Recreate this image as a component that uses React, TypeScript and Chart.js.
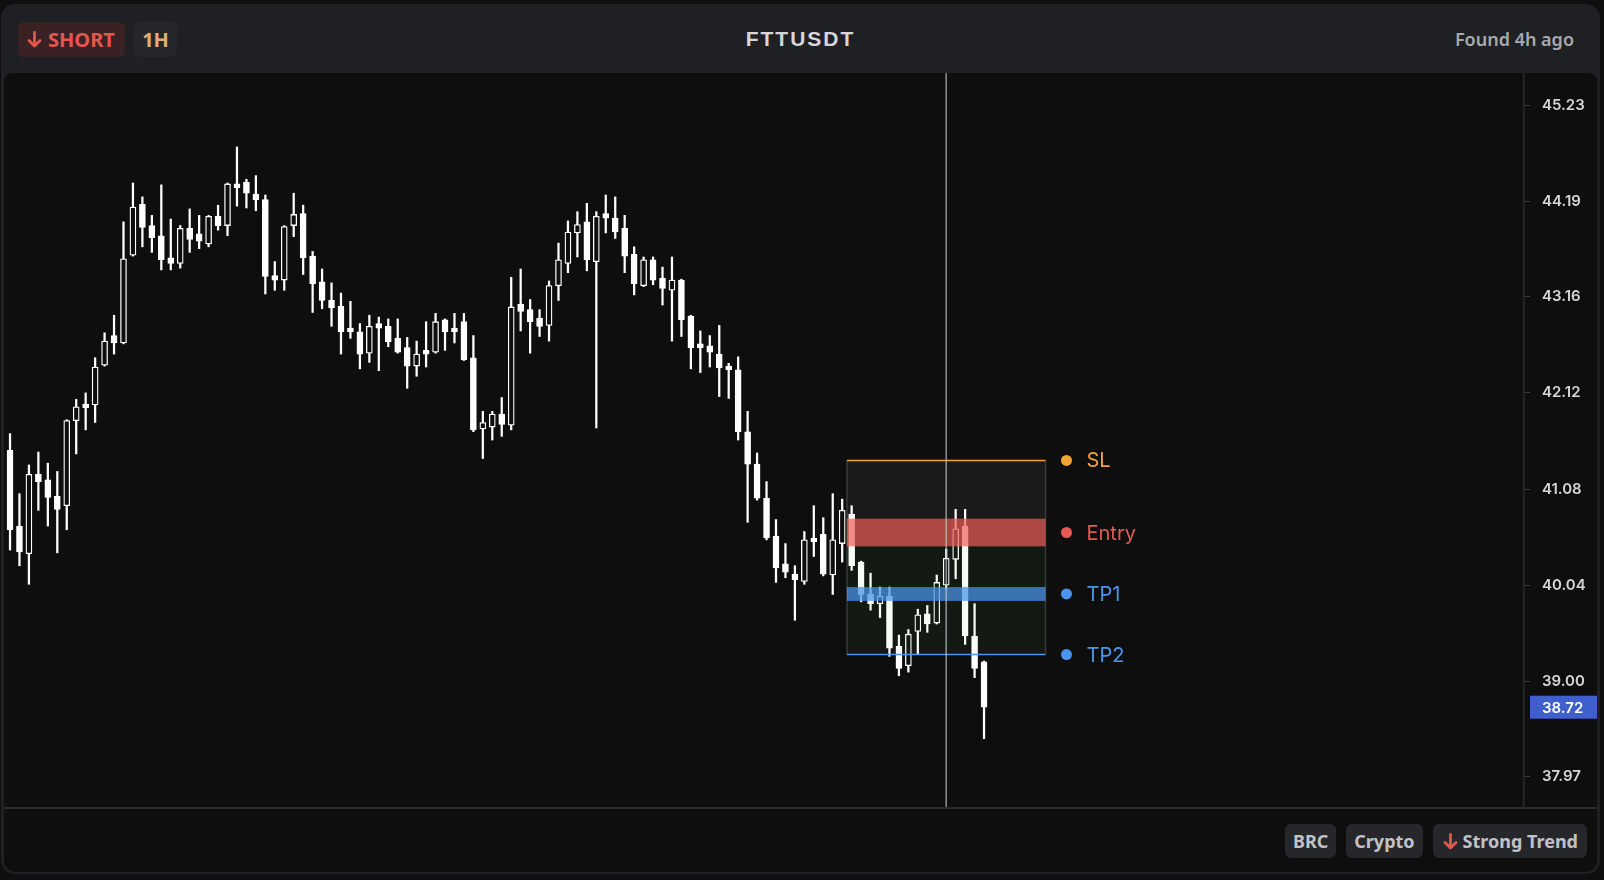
import React, { useEffect, useRef } from "react";
import { Chart, registerables } from "chart.js";

Chart.register(...registerables);

const symbol = "FTTUSDT";
const direction = "SHORT";
const timeframe = "1H";
const foundText = "Found 4h ago";
const tags = ["BRC", "Crypto"];
const trendTag = "Strong Trend";

const opens = [
  41.5, 40.68, 40.38, 41.24, 41.18, 41.0, 40.9, 41.82, 42.0, 41.99,
  42.42, 42.74, 42.66, 43.61, 44.16, 43.93, 43.82, 43.58, 43.52, 43.9,
  43.84, 43.73, 44.03, 43.93, 44.38, 44.4, 44.27, 44.21, 43.39, 43.34,
  43.93, 44.06, 43.6, 43.32, 43.12, 43.06, 42.82, 42.78, 42.55, 42.87,
  42.84, 42.71, 42.61, 42.41, 42.58, 42.56, 42.91, 42.82, 42.89, 42.5,
  41.73, 41.75, 41.89, 41.77, 43.08, 43.02, 42.93, 42.85, 43.28, 43.52,
  43.85, 43.97, 43.54, 44.06, 44.01, 43.9, 43.62, 43.28, 43.56, 43.36,
  43.23, 43.34, 42.95, 42.65, 42.63, 42.54, 42.41, 42.37, 41.7, 41.35,
  40.98, 40.57, 40.27, 40.16, 40.08, 40.55, 40.59, 40.15, 40.49, 40.81,
  40.29, 39.94, 39.84, 39.92, 39.38, 39.17, 39.54, 39.73, 39.63, 40.04,
  40.32, 40.68, 39.49, 39.21,
];
const highs = [
  41.68, 41.03, 41.34, 41.48, 41.36, 41.27, 41.83, 42.05, 42.12, 42.5,
  42.77, 42.96, 43.97, 44.39, 44.24, 44.04, 44.37, 44.0, 43.93, 44.11,
  44.04, 44.04, 44.15, 44.39, 44.78, 44.43, 44.47, 44.26, 43.54, 43.93,
  44.28, 44.15, 43.65, 43.46, 43.31, 43.2, 43.11, 42.87, 42.96, 42.94,
  42.92, 42.92, 42.72, 42.68, 42.89, 42.98, 42.92, 42.98, 42.98, 42.74,
  41.92, 41.92, 42.07, 43.37, 43.46, 43.13, 43.02, 43.33, 43.74, 43.98,
  44.08, 44.17, 44.08, 44.26, 44.24, 44.04, 43.7, 43.59, 43.59, 43.48,
  43.59, 43.35, 42.96, 42.79, 42.74, 42.85, 42.44, 42.51, 41.92, 41.47,
  41.16, 40.75, 40.49, 40.25, 40.62, 40.9, 40.77, 41.03, 40.97, 40.9,
  40.3, 40.17, 40.02, 40.02, 39.5, 39.56, 39.78, 39.82, 40.15, 40.43,
  40.86, 40.86, 39.84, 39.22,
];
const lows = [
  40.42, 40.25, 40.05, 40.85, 40.68, 40.39, 40.64, 41.46, 41.72, 41.8,
  42.41, 42.54, 42.65, 43.6, 43.7, 43.64, 43.45, 43.45, 43.47, 43.64,
  43.68, 43.7, 43.88, 43.82, 44.14, 44.12, 44.09, 43.19, 43.23, 43.23,
  43.81, 43.4, 42.99, 43.03, 42.84, 42.54, 42.71, 42.38, 42.45, 42.36,
  42.62, 42.55, 42.17, 42.3, 42.4, 42.55, 42.58, 42.66, 42.47, 41.7,
  41.41, 41.61, 41.65, 41.72, 42.79, 42.55, 42.73, 42.68, 43.12, 43.42,
  43.59, 43.44, 41.74, 43.85, 43.79, 43.42, 43.18, 43.27, 43.29, 43.07,
  42.68, 42.73, 42.38, 42.34, 42.4, 42.08, 42.06, 41.61, 40.72, 40.96,
  40.53, 40.07, 40.12, 39.66, 40.05, 40.35, 40.14, 39.94, 40.29, 40.2,
  39.86, 39.77, 39.69, 39.27, 39.06, 39.1, 39.29, 39.53, 39.62, 40.0,
  40.11, 39.4, 39.04, 38.38,
];
const closes = [
  40.64, 40.4, 41.24, 41.16, 40.99, 40.86, 41.82, 41.97, 41.96, 42.4,
  42.68, 42.66, 43.57, 44.13, 43.91, 43.8, 43.56, 43.52, 43.9, 43.78,
  43.76, 44.03, 43.93, 44.38, 44.34, 44.28, 44.21, 43.38, 43.34, 43.92,
  44.05, 43.58, 43.3, 43.12, 43.04, 42.78, 42.78, 42.54, 42.84, 42.82,
  42.67, 42.56, 42.41, 42.54, 42.54, 42.89, 42.78, 42.78, 42.48, 41.72,
  41.8, 41.89, 41.78, 43.05, 43.0, 42.89, 42.84, 43.28, 43.56, 43.86,
  43.94, 43.56, 44.03, 44.01, 43.86, 43.6, 43.3, 43.56, 43.34, 43.25,
  43.34, 42.91, 42.61, 42.61, 42.56, 42.39, 42.37, 41.7, 41.35, 40.98,
  40.55, 40.23, 40.18, 40.1, 40.53, 40.51, 40.16, 40.53, 40.85, 40.25,
  39.94, 39.84, 39.92, 39.36, 39.14, 39.51, 39.72, 39.62, 40.07, 40.33,
  40.65, 39.49, 39.14, 38.72,
];

const yTicks = [37.97, 39.0, 40.04, 41.08, 42.12, 43.16, 44.19, 45.23];
const yRange = [37.63, 45.58];
const xRange = [-0.53, 160.1];

const levelNames = ["SL", "Entry", "TP1", "TP2"];
const slPrice = 41.39;
const entryZone = [40.46, 40.76];
const tp1Zone = [39.87, 40.02];
const tp2Price = 39.29;
const levelPrices = [slPrice, (entryZone[0] + entryZone[1]) / 2, (tp1Zone[0] + tp1Zone[1]) / 2, tp2Price];
const setupSpan = [88.5, 109.5];
const markerIndex = 99;
const lastPrice = 38.72;

const levelColors = ["#f2a533", "#e85752", "#4a95ee", "#4a95ee"];

const setupPlugin = {
  id: "setupOverlay",
  afterDatasetsDraw(chart: any) {
    const { ctx, chartArea: ca, scales } = chart;
    const x = scales.x;
    const y = scales.y;
    const xl = x.getPixelForValue(setupSpan[0]);
    const xr = x.getPixelForValue(setupSpan[1]);
    const w = xr - xl;
    const ySL = y.getPixelForValue(slPrice);
    const yEt = y.getPixelForValue(entryZone[1]);
    const yEb = y.getPixelForValue(entryZone[0]);
    const yT1t = y.getPixelForValue(tp1Zone[1]);
    const yT1b = y.getPixelForValue(tp1Zone[0]);
    const yT2 = y.getPixelForValue(tp2Price);
    ctx.save();
    ctx.beginPath();
    ctx.rect(ca.left, ca.top, ca.width, ca.height);
    ctx.clip();
    ctx.fillStyle = "rgba(255,255,255,0.05)";
    ctx.fillRect(xl, ySL, w, yEt - ySL);
    ctx.fillStyle = "rgba(100,220,120,0.06)";
    ctx.fillRect(xl, yEb, w, yT2 - yEb);
    ctx.fillStyle = "rgba(235,95,92,0.72)";
    ctx.fillRect(xl, yEt, w, yEb - yEt);
    ctx.fillStyle = "rgba(74,146,235,0.74)";
    ctx.fillRect(xl, yT1t, w, yT1b - yT1t);
    ctx.strokeStyle = "rgba(255,255,255,0.16)";
    ctx.lineWidth = 1.5;
    ctx.beginPath();
    ctx.moveTo(xl, ySL);
    ctx.lineTo(xl, yT2);
    ctx.moveTo(xr, ySL);
    ctx.lineTo(xr, yT2);
    ctx.stroke();
    ctx.lineWidth = 1.5;
    ctx.strokeStyle = levelColors[0];
    ctx.beginPath();
    ctx.moveTo(xl, ySL);
    ctx.lineTo(xr, ySL);
    ctx.stroke();
    ctx.strokeStyle = levelColors[3];
    ctx.beginPath();
    ctx.moveTo(xl, yT2);
    ctx.lineTo(xr, yT2);
    ctx.stroke();
    const xm = x.getPixelForValue(markerIndex);
    ctx.strokeStyle = "rgba(200,200,200,0.7)";
    ctx.lineWidth = 1.5;
    ctx.beginPath();
    ctx.moveTo(xm, ca.top);
    ctx.lineTo(xm, ca.bottom);
    ctx.stroke();
    ctx.font = "20px Inter";
    ctx.textBaseline = "middle";
    ctx.textAlign = "left";
    levelNames.forEach((name, i) => {
      const yp = y.getPixelForValue(levelPrices[i]);
      ctx.fillStyle = levelColors[i];
      ctx.beginPath();
      ctx.arc(xr + 21, yp, 5.5, 0, Math.PI * 2);
      ctx.fill();
      ctx.fillText(name, xr + 41, yp + 1);
    });
    ctx.restore();
  },
  afterDraw(chart: any) {
    const { ctx } = chart;
    const y = chart.scales.y;
    const yp = y.getPixelForValue(lastPrice);
    ctx.save();
    ctx.fillStyle = "#3f5fcc";
    ctx.fillRect(y.left + 6, yp - 11.5, y.right - y.left - 6, 23);
    ctx.fillStyle = "#ffffff";
    ctx.font = "600 15px Inter";
    ctx.textBaseline = "middle";
    ctx.textAlign = "left";
    ctx.fillText(lastPrice.toFixed(2), y.left + 18, yp + 1);
    ctx.restore();
  },
};

const DownArrow = ({ color }: { color: string }) => (
  <svg width="15" height="17" viewBox="0 0 15 17" style={{ display: "block" }}>
    <path d="M7.5 1.5 V15 M2 9.5 L7.5 15 L13 9.5" stroke={color} strokeWidth="2.8" fill="none" strokeLinecap="round" strokeLinejoin="round" />
  </svg>
);

export default function App() {
  const ref = useRef<HTMLCanvasElement>(null);
  useEffect(() => {
    document.body.style.margin = "0";
    document.body.style.background = "#0f0f10";
    const canvas = ref.current!;
    const bodies = opens.map((o, i) => ({ x: i, y: [o, closes[i]] }));
    const wicks = lows.map((l, i) => ({ x: i, y: [l, highs[i]] }));
    const chart = new Chart(canvas, {
      type: "bar",
      data: {
        datasets: [
          {
            label: "body",
            data: bodies as any,
            backgroundColor: opens.map((o, i) => (closes[i] >= o ? "#0e0e0e" : "#ffffff")),
            borderColor: "#ffffff",
            borderWidth: 1.3,
            borderSkipped: false,
            barThickness: 6,
            order: 0,
          },
          {
            label: "wick",
            data: wicks as any,
            backgroundColor: "#ffffff",
            borderWidth: 0,
            barThickness: 1.6,
            order: 1,
          },
        ],
      },
      options: {
        animation: false,
        responsive: false,
        maintainAspectRatio: false,
        layout: { padding: 0, autoPadding: false },
        datasets: { bar: { grouped: false } },
        plugins: { legend: { display: false }, tooltip: { enabled: false } },
        scales: {
          x: { type: "linear", min: xRange[0], max: xRange[1], display: false, offset: false },
          y: {
            position: "right",
            min: yRange[0],
            max: yRange[1],
            afterBuildTicks: (s: any) => {
              s.ticks = yTicks.map((v) => ({ value: v }));
            },
            afterFit: (s: any) => {
              s.width = 73;
              s.paddingTop = 0;
              s.paddingBottom = 0;
            },
            ticks: {
              callback: (v: any) => Number(v).toFixed(2),
              color: "#d6d6da",
              font: { family: "Inter", size: 15, weight: "600" },
              padding: 12,
            },
            grid: { drawOnChartArea: false, drawTicks: true, tickLength: 6, color: "#3a3a3c" },
            border: { display: true, color: "#2a2a2c", width: 1.5 },
          },
        },
      } as any,
      plugins: [setupPlugin],
    });
    return () => chart.destroy();
  }, []);

  const badge: React.CSSProperties = {
    position: "absolute",
    height: 35,
    top: 22,
    borderRadius: 6,
    display: "flex",
    alignItems: "center",
    boxSizing: "border-box",
    fontFamily: "'Noto Sans', sans-serif",
    fontWeight: 700,
    fontSize: 20,
  };
  const footBadge: React.CSSProperties = {
    height: 34,
    borderRadius: 6,
    background: "#26272b",
    color: "#c2c2c6",
    display: "flex",
    alignItems: "center",
    padding: "0 8px",
    gap: 5,
    fontFamily: "'Noto Sans', sans-serif",
    fontWeight: 700,
    fontSize: 18,
  };

  return (
    <div style={{ position: "fixed", left: 0, top: 0, width: 1604, height: 880, background: "#0f0f10", overflow: "hidden" }}>
      <div style={{ position: "absolute", left: 1, top: 4, width: 1599, height: 870, background: "#1f2023", borderRadius: 14 }} />
      <div style={{ position: "absolute", left: 4, top: 73, width: 1593, height: 799, background: "#0e0e0e", borderRadius: "8px 8px 12px 12px" }} />
      <div style={{ ...badge, left: 18, width: 107, background: "#3a2224", color: "#e4574e", paddingLeft: 9, gap: 6 }}>
        <DownArrow color="#e4574e" />
        <span>{direction}</span>
      </div>
      <div style={{ ...badge, left: 134, width: 43, background: "#26272b", color: "#e3ad7a", justifyContent: "center" }}>
        {timeframe}
      </div>
      <div
        style={{
          position: "absolute",
          left: 1,
          width: 1599,
          top: 26,
          textAlign: "center",
          fontFamily: "'Liberation Sans', Arial, sans-serif",
          fontWeight: 700,
          fontSize: 21,
          letterSpacing: 2,
          color: "#d6d6da",
          lineHeight: "26px",
        }}
      >
        {symbol}
      </div>
      <div
        style={{
          position: "absolute",
          right: 30,
          top: 27,
          fontFamily: "'Noto Sans', sans-serif",
          fontWeight: 600,
          fontSize: 18,
          color: "#a9a9ae",
          lineHeight: "24px",
        }}
      >
        {foundText}
      </div>
      <canvas ref={ref} width={1592} height={735} style={{ position: "absolute", left: 5, top: 73, width: 1592, height: 735 }} />
      <div style={{ position: "absolute", left: 4, top: 807, width: 1593, height: 2, background: "#2a2b2e" }} />
      <div style={{ position: "absolute", right: 17, top: 824, display: "flex", gap: 10 }}>
        {tags.map((t) => (
          <div key={t} style={footBadge}>
            {t}
          </div>
        ))}
        <div style={{ ...footBadge, paddingLeft: 10, paddingRight: 9 }}>
          <DownArrow color="#e4574e" />
          <span>{trendTag}</span>
        </div>
      </div>
    </div>
  );
}
